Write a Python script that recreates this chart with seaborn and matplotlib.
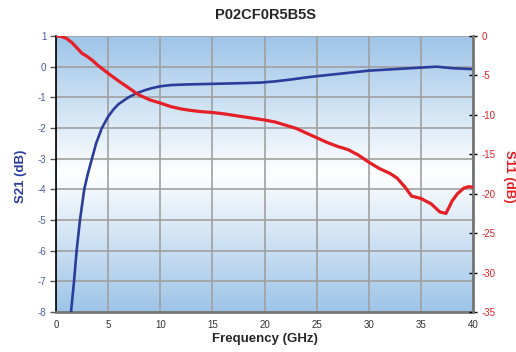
import matplotlib
matplotlib.use("Agg")
import matplotlib.pyplot as plt
from matplotlib.colors import LinearSegmentedColormap
import seaborn as sns
import numpy as np
import pandas as pd

# S21 (insertion loss), left axis
s21_freq = [1.44, 1.73, 1.98, 2.3, 2.71, 3.05, 3.45, 3.85, 4.4, 5.0, 5.5, 6.0, 6.95, 7.7,
            8.5, 9.2, 10.0, 11.0, 12.5, 15.0, 17.5, 19.6, 21.0, 22.5, 24.0, 25.0, 27.5,
            30.0, 32.5, 35.0, 36.5, 38.0, 40.0]
s21_db = [-8.0, -7.0, -6.0, -5.0, -4.0, -3.5, -3.0, -2.5, -2.0, -1.63, -1.4, -1.22, -1.0, -0.87,
          -0.77, -0.7, -0.64, -0.6, -0.58, -0.56, -0.54, -0.52, -0.48, -0.42, -0.35, -0.31, -0.22,
          -0.13, -0.08, -0.03, 0.0, -0.05, -0.08]

# S11 (return loss), right axis
s11_freq = [0.0, 0.5, 1.0, 1.5, 2.0, 2.5, 3.0, 3.5, 4.0, 5.0, 6.0, 7.0, 7.7, 8.0, 9.0, 10.0,
            11.0, 12.0, 13.0, 14.0, 15.0, 16.0, 17.0, 18.0, 19.0, 20.0, 21.0, 22.0, 23.0,
            24.0, 25.0, 26.0, 27.0, 28.0, 29.0, 30.0, 31.0, 32.0, 32.7, 33.5, 34.1, 35.0,
            36.0, 36.8, 37.4, 38.0, 38.5, 39.1, 39.6, 40.0]
s11_db = [0.0, -0.05, -0.3, -0.8, -1.5, -2.2, -2.6, -3.1, -3.7, -4.73, -5.7, -6.6, -7.25, -7.5,
          -8.1, -8.5, -8.95, -9.25, -9.45, -9.6, -9.7, -9.85, -10.05, -10.25, -10.45, -10.65,
          -10.9, -11.3, -11.7, -12.3, -12.9, -13.5, -14.0, -14.4, -15.1, -16.0, -16.8, -17.4,
          -18.0, -19.2, -20.3, -20.6, -21.3, -22.3, -22.5, -20.9, -20.0, -19.3, -19.1, -19.2]

s21 = pd.DataFrame({"freq": s21_freq, "db": s21_db})
s11 = pd.DataFrame({"freq": s11_freq, "db": s11_db})

sns.set_style("white")
plt.rcParams["font.family"] = ["Liberation Sans", "DejaVu Sans"]
plt.rcParams["axes.unicode_minus"] = False

blue = "#2b3d9a"
red = "#e41f26"

fig = plt.figure(figsize=(5.16, 3.52), dpi=100)
ax = fig.add_axes([0.1085, 0.1136, 0.8083, 0.7841])

# background gradient: blue at top and bottom, white in the middle
cmap = LinearSegmentedColormap.from_list("bg", ["#9dc4e8", "#ffffff", "#9dc4e8"])
grad = np.linspace(0, 1, 256).reshape(-1, 1)
ax.imshow(grad, aspect="auto", cmap=cmap, extent=[0, 40, -8, 1], origin="upper", zorder=0)

ax.set_xlim(0, 40)
ax.set_ylim(-8, 1)
ax.set_xticks(range(0, 41, 5))
ax.set_yticks(range(-8, 2))
ax.grid(True, color="#a0a0a0", linewidth=1.2, zorder=1)

sns.lineplot(data=s21, x="freq", y="db", ax=ax, color=blue, linewidth=1.9, zorder=3)

ax2 = ax.twinx()
sns.lineplot(data=s11, x="freq", y="db", ax=ax2, color=red, linewidth=2.3, zorder=3)
ax2.set_ylim(-35, 0)
ax2.set_yticks(range(-35, 1, 5))

ax.set_xlabel("Frequency (GHz)", fontsize=9.5, fontweight="bold", va="center")
ax.xaxis.set_label_coords(0.5, -0.098)
ax.set_ylabel("S21 (dB)", fontsize=9.5, fontweight="bold", color=blue, va="center")
ax.yaxis.set_label_coords(-0.084, 0.49)
ax2.set_ylabel("S11 (dB)", fontsize=9.5, fontweight="bold", color=red, rotation=270,
               va="center", ha="center")
ax2.yaxis.set_label_coords(1.086, 0.49)
fig.text(0.514, 0.957, "P02CF0R5B5S", fontsize=10.5, fontweight="bold", ha="center", va="center")

ax.tick_params(axis="x", labelsize=7, colors="#333333", direction="inout", length=4, width=1, pad=4)
ax.tick_params(axis="y", labelsize=7, labelcolor="#4a5aa8", color="#555555", direction="out",
               length=4, width=1, pad=3)
ax2.tick_params(axis="y", labelsize=7, labelcolor=red, color="black", direction="inout",
                length=6, width=1, pad=3)

ax.spines["top"].set_visible(False)
ax2.spines["top"].set_visible(False)
ax.spines["left"].set_color("black")
ax.spines["left"].set_linewidth(1.2)
ax.spines["bottom"].set_color("#777777")
ax.spines["bottom"].set_linewidth(2)
ax2.spines["right"].set_color("#777777")
ax2.spines["right"].set_linewidth(2)
ax2.spines["left"].set_visible(False)
ax2.spines["bottom"].set_visible(False)

fig.savefig("out.png", dpi=100)
